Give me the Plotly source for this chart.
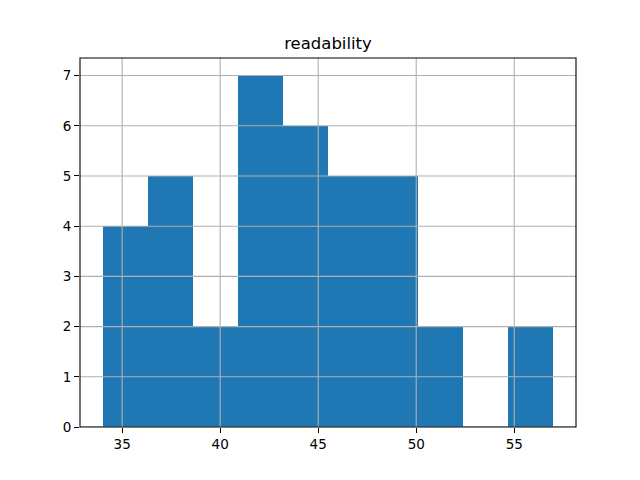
import plotly.graph_objects as go

# Histogram of "readability" (10 bins)
bin_edges = [34.0, 36.3, 38.6, 40.9, 43.2, 45.5, 47.8, 50.1, 52.4, 54.7, 57.0]
counts = [4, 5, 2, 7, 6, 5, 5, 2, 0, 2]
x_ticks = [35, 40, 45, 50, 55]
y_ticks = [0, 1, 2, 3, 4, 5, 6, 7]
title_text = "readability"

centers = [(a + b) / 2 for a, b in zip(bin_edges[:-1], bin_edges[1:])]
widths = [b - a for a, b in zip(bin_edges[:-1], bin_edges[1:])]

span = bin_edges[-1] - bin_edges[0]
x_range = [bin_edges[0] - 0.05 * span, bin_edges[-1] + 0.05 * span]
y_range = [0, max(counts) * 1.05]

font = "DejaVu Sans, Liberation Sans, sans-serif"

fig = go.Figure()
fig.add_trace(go.Bar(
    x=centers, y=counts, width=widths,
    marker=dict(color="#1f77b4", line=dict(width=0)),
    hoverinfo="x+y",
))

# grid lines drawn above bars (as matplotlib does)
shapes = []
for t in x_ticks:
    shapes.append(dict(type="line", xref="x", yref="paper", x0=t, x1=t, y0=0, y1=1,
                       line=dict(color="#b0b0b0", width=1.1), layer="above"))
for t in y_ticks:
    shapes.append(dict(type="line", xref="paper", yref="y", x0=0, x1=1, y0=t, y1=t,
                       line=dict(color="#b0b0b0", width=1.1), layer="above"))
# frame
shapes.append(dict(type="rect", xref="paper", yref="paper", x0=0, x1=1, y0=0, y1=1,
                   line=dict(color="black", width=1.1), layer="above"))

fig.update_layout(
    width=640, height=480,
    margin=dict(l=72, r=72, t=50, b=61),
    paper_bgcolor="white", plot_bgcolor="white",
    font=dict(family=font, size=13.5, color="black"),
    title=dict(text=title_text, x=0.5, xref="paper", xanchor="center",
               y=1 - 35 / 480, yref="container", yanchor="middle",
               font=dict(size=16.5, family=font, color="black")),
    showlegend=False,
    bargap=0,
    shapes=shapes,
    xaxis=dict(range=x_range, tickvals=x_ticks, ticktext=[str(t) for t in x_ticks],
               showgrid=False, zeroline=False, showline=False,
               ticks="outside", ticklen=5, tickwidth=1.1, tickcolor="black"),
    yaxis=dict(range=y_range, tickvals=y_ticks, ticktext=[str(t) for t in y_ticks],
               showgrid=False, zeroline=False, showline=False,
               ticks="outside", ticklen=5, tickwidth=1.1, tickcolor="black"),
)

fig.write_html("out.html")
